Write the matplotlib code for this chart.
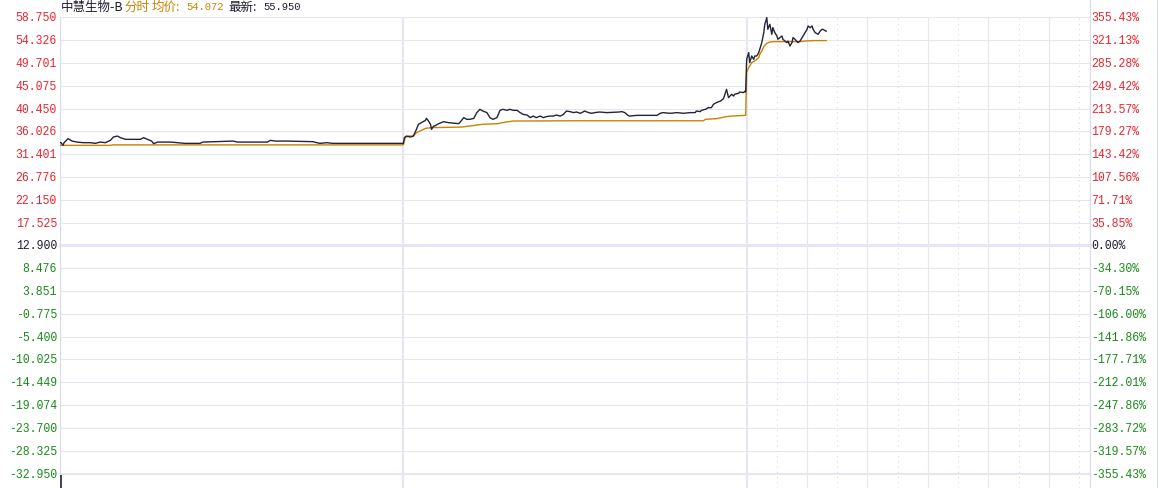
import matplotlib
matplotlib.use("Agg")
import matplotlib.pyplot as plt
import numpy as np

# price scale (left) and change-% scale (right), top to bottom
left_labels = ["58.750", "54.326", "49.701", "45.075", "40.450", "36.026", "31.401",
               "26.776", "22.150", "17.525", "12.900", "8.476", "3.851", "-0.775",
               "-5.400", "-10.025", "-14.449", "-19.074", "-23.700", "-28.325", "-32.950"]
right_labels = ["355.43%", "321.13%", "285.28%", "249.42%", "213.57%", "179.27%", "143.42%",
                "107.56%", "71.71%", "35.85%", "0.00%", "-34.30%", "-70.15%", "-106.00%",
                "-141.86%", "-177.71%", "-212.01%", "-247.86%", "-283.72%", "-319.57%", "-355.43%"]
price_top = 58.75
price_bottom = -32.95

# minutes per session (HK: 09:30-12:00, 13:00-16:10)
day_len = 341

# day 1
day1_t = [0, 1, 3, 4, 8, 12, 17, 23, 30, 35, 40, 45, 50, 53, 57, 60, 65, 73, 80, 83,
          87, 91, 93, 97, 110, 124, 139, 142, 172, 176, 206, 209, 214, 226, 251, 258,
          265, 271, 340]
day1_p = [33.55, 33.55, 33.01, 33.55, 34.36, 33.87, 33.67, 33.55, 33.55, 33.41, 33.67,
          33.55, 34.01, 34.68, 34.88, 34.56, 34.22, 34.22, 34.22, 34.56, 34.22, 33.87,
          33.35, 33.67, 33.67, 33.41, 33.41, 33.67, 33.87, 33.67, 33.67, 34.01, 33.87,
          33.87, 33.75, 33.41, 33.55, 33.41, 33.41]
day1_avg_t = [0, 50, 52, 340]
day1_avg = [33.01, 33.01, 33.10, 33.10]

# day 2
day2_t = [0, 1, 3, 7, 10, 13, 15, 18, 22, 23, 25, 27, 28, 30, 31, 35, 40, 45, 55, 56,
          60, 63, 66, 70, 73, 76, 79, 83, 86, 89, 93, 96, 99, 103, 106, 109, 113, 116,
          119, 123, 126, 129, 132, 136, 139, 142, 146, 149, 152, 156, 159, 162, 166,
          169, 172, 176, 180, 184, 187, 190, 195, 202, 214, 217, 220, 223, 225, 232,
          252, 255, 258, 265, 272, 278, 285, 290, 291, 295, 296, 300, 303, 306, 308,
          311, 315, 318, 321, 323, 326, 328, 329, 333, 334, 338, 339, 340]
day2_p = [33.35, 34.56, 34.88, 34.68, 34.88, 36.23, 37.23, 37.57, 38.04, 38.44, 37.90,
          37.23, 36.23, 36.89, 36.89, 37.37, 37.77, 37.57, 37.37, 37.57, 38.58, 38.24,
          38.24, 38.44, 39.59, 40.25, 39.91, 39.59, 38.58, 38.24, 38.58, 40.05, 40.25,
          40.05, 40.25, 40.05, 40.05, 39.59, 39.24, 39.10, 38.58, 38.90, 38.58, 38.90,
          38.58, 38.78, 38.90, 38.90, 39.10, 38.90, 39.24, 39.91, 39.77,
          39.59, 39.71, 39.45, 39.91, 39.59, 39.45, 39.59, 39.71, 39.59, 39.71, 39.79,
          39.59, 39.04, 38.90, 39.04, 39.04, 39.45, 39.59, 39.45, 39.59, 39.45, 39.59,
          39.59, 39.91, 39.79, 40.05, 40.25, 40.59, 40.59, 41.26, 41.60, 41.92, 42.40,
          44.27, 42.60, 43.27, 42.92, 43.27, 43.47, 43.73, 43.61, 43.87, 43.73]
day2_avg_t = [0, 2, 5, 10, 13, 18, 22, 28, 58, 73, 78, 94, 98, 109, 170, 298, 300,
              311, 316, 321, 326, 340]
day2_avg = [33.21, 34.56, 34.88, 34.88, 35.56, 36.03, 36.43, 36.57, 36.69, 37.09, 37.23,
            37.37, 37.57, 37.90, 37.95, 37.95, 38.24, 38.38, 38.58, 38.78, 38.90, 39.04]

# day 3 (in progress)
day3_t = [0, 2, 3, 5, 7, 8, 10, 12, 13, 15, 17, 18, 20, 21, 23, 25, 26, 28, 30, 31,
          35, 36, 40, 41, 43, 45, 46, 48, 51, 53, 55, 56, 58, 60, 61, 63, 65, 66, 68,
          71, 73, 75, 76, 79]
day3_p = [50.30, 51.65, 49.64, 50.97, 50.30, 50.97, 50.97, 51.65, 52.32, 53.66, 55.67,
          57.34, 58.69, 56.34, 57.34, 55.33, 56.68, 55.67, 54.99, 54.33, 54.99, 54.33,
          53.66, 53.98, 52.98, 53.66, 54.67, 54.33, 53.66, 53.98, 54.67, 54.99, 55.67,
          56.34, 57.00, 56.68, 57.00, 56.34, 55.67, 55.33, 55.99, 56.34, 56.30, 55.95]
day3_avg_t = [0, 2, 5, 8, 12, 13, 15, 17, 20, 23, 27, 53, 58, 68, 79]
day3_avg = [47.63, 48.64, 49.64, 49.96, 50.65, 51.31, 51.97, 52.86, 53.52, 53.78, 53.86,
            53.86, 53.98, 54.07, 54.07]

name = "中慧生物-B"
avg_last = "54.072"
price_last = "55.950"

RED = "#e8262d"
GREEN = "#1a8a1a"
DARK = "#1e1e30"
ORANGE = "#c88400"
GRID = "#e6e6f2"
LINE = "#23233b"

plt.rcParams['font.family'] = ['Noto Sans CJK SC', 'DejaVu Sans']

W, H = 1158, 489
fig = plt.figure(figsize=(W / 100, H / 100), dpi=100)
top_px = 18.3
ax = fig.add_axes([60 / W, 0, 1030 / W, (H - top_px) / H])
step = (price_top - price_bottom) / (len(left_labels) - 1)
y_px = (H - top_px - 14.5) / (len(left_labels) - 1)  # px per grid step
ax.set_xlim(0, 3 * day_len)
ax.set_ylim(price_bottom - 14.5 / y_px * step, price_top)
for s in ax.spines.values():
    s.set_visible(False)
ax.set_xticks([])
ax.set_yticks([])

levels = np.linspace(price_top, price_bottom, len(left_labels))
for i, lv in enumerate(levels):
    lw = 0.75
    if i == 10:
        lw = 2.2
    elif i == len(levels) - 1:
        lw = 1.5
    ax.axhline(lv, color=GRID, lw=lw, clip_on=False, zorder=1)

# vertical grid
ax.axvline(0, color="#dcdce8", lw=0.9, zorder=1)
ax.axvline(day_len, color=GRID, lw=1.6, zorder=1)
ax.axvline(2 * day_len, color=GRID, lw=1.6, zorder=1)
for k in range(1, 12):
    xv = 2 * day_len + 30 * k
    if k % 2 == 0:
        ax.axvline(xv, color=GRID, lw=0.8, zorder=1)
    else:
        ax.axvline(xv, color="#d6d6de", lw=0.75, ls=(0, (1, 4)), zorder=1)

# borders outside the plot
fig.add_artist(plt.Line2D([1090 / W, 1090 / W], [0, 1], color="#dcdce8", lw=0.9))
fig.add_artist(plt.Line2D([1156.5 / W, 1156.5 / W], [0, 1], color="#dcdce8", lw=0.9))

# series
xs = ([t for t in day1_t] + [day_len + t for t in day2_t] + [2 * day_len + t for t in day3_t])
ps = day1_p + day2_p + day3_p
xa = ([t for t in day1_avg_t] + [day_len + t for t in day2_avg_t] + [2 * day_len + t for t in day3_avg_t])
pa = day1_avg + day2_avg + day3_avg
ax.plot(xa, pa, color=ORANGE, lw=1.0, zorder=3)
ax.plot(xs, ps, color=LINE, lw=1.0, zorder=4)

# first volume bar peeking in from the pane below
ax.vlines(xs[1], ax.get_ylim()[0], price_bottom - 0.3, color=LINE, lw=1.2, zorder=4)

# axis labels
for i, lv in enumerate(levels):
    c = RED if i < 10 else (DARK if i == 10 else GREEN)
    ax.text(-3.0, lv, left_labels[i], color=c, ha="right", va="center",
            fontsize=8.3, family="Liberation Mono")
    ax.text(3 * day_len + 1.5, lv, right_labels[i], color=c, ha="left", va="center",
            fontsize=8.3, family="Liberation Mono")

# header
ty = 1 - 7 / H
fig.text(60.5 / W, ty, name, color=DARK, fontsize=9, va="center")
fig.text(124 / W, ty, "分时", color=ORANGE, fontsize=9, va="center")
fig.text(151.5 / W, ty, "均价:", color=ORANGE, fontsize=9, va="center")
fig.text(186 / W, ty, avg_last, color=ORANGE, fontsize=7.6, va="center", family="Liberation Mono")
fig.text(228 / W, ty, "最新:", color=DARK, fontsize=9, va="center")
fig.text(263 / W, ty, price_last, color=DARK, fontsize=7.6, va="center", family="Liberation Mono")

fig.savefig("out.png", dpi=100)
